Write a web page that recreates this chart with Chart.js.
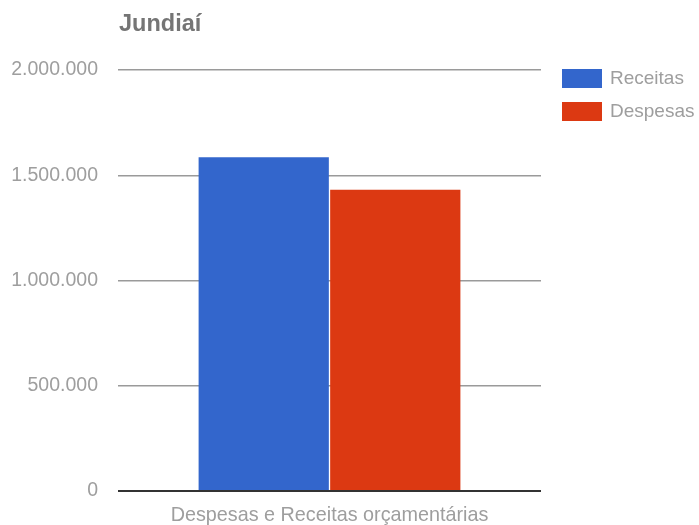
<!DOCTYPE html>
<html>
<head>
<meta charset="utf-8">
<script src="https://cdn.jsdelivr.net/npm/chart.js@4"></script>
<style>
  html, body { margin: 0; padding: 0; background: #fff; }
  #wrap { width: 699px; height: 525px; position: relative; }
</style>
</head>
<body>
<div id="wrap"><canvas id="chart" width="699" height="525"></canvas></div>
<script>
// data
const chartTitle = "Jundiaí";
const categories = ["Despesas e Receitas orçamentárias"];
const seriesNames = ["Receitas", "Despesas"];
const receitas = [1585000];
const despesas = [1431000];
const seriesColors = ["#3366cc", "#dc3912"];
const yTicks = [0, 500000, 1000000, 1500000, 2000000];

const FONT = "'Liberation Sans', Arial, sans-serif";
const TEXT_GRAY = "#9e9e9e";

// thousands with dots (pt-BR)
function fmt(v) {
    return String(v).replace(/\B(?=(\d{3})+(?!\d))/g, ".");
}

// title + legend drawn like the google chart
const decorPlugin = {
    id: "decor",
    afterDraw(chart) {
        const ctx = chart.ctx;
        ctx.save();
        ctx.fillStyle = "#757575";
        ctx.font = "bold 23.5px " + FONT;
        ctx.textBaseline = "middle";
        ctx.textAlign = "left";
        ctx.fillText(chartTitle, 119, 25);

        chart.data.datasets.forEach((ds, i) => {
            const y = 69 + i * 33;
            ctx.fillStyle = ds.backgroundColor;
            ctx.fillRect(562, y, 40, 19);
            ctx.fillStyle = TEXT_GRAY;
            ctx.font = "19px " + FONT;
            ctx.fillText(ds.label, 610, y + 10);
        });
        ctx.restore();
    }
};

new Chart(document.getElementById("chart").getContext("2d"), {
    type: "bar",
    data: {
        labels: categories,
        datasets: [
            { label: seriesNames[0], data: receitas, backgroundColor: seriesColors[0] },
            { label: seriesNames[1], data: despesas, backgroundColor: seriesColors[1] }
        ]
    },
    options: {
        responsive: false,
        animation: false,
        layout: { padding: { left: 0, right: 158, top: 70, bottom: 0 } },
        plugins: { legend: { display: false }, title: { display: false }, tooltip: { enabled: false } },
        datasets: { bar: { categoryPercentage: 0.622, barPercentage: 0.99, borderWidth: 0 } },
        scales: {
            x: {
                grid: { display: false, drawTicks: false },
                border: { display: false },
                ticks: { color: TEXT_GRAY, font: { family: FONT, size: 19.8 }, padding: 13 },
                afterFit(s) { s.height = 34; }
            },
            y: {
                min: 0,
                max: 2000000,
                afterBuildTicks(s) { s.ticks = yTicks.map(v => ({ value: v })); },
                grid: {
                    drawTicks: false,
                    color: c => c.tick && c.tick.value === 0 ? "#333333" : "#9a9a9a",
                    lineWidth: c => c.tick && c.tick.value === 0 ? 2 : 1.5
                },
                border: { display: false },
                ticks: {
                    color: TEXT_GRAY,
                    font: { family: FONT, size: 19.5 },
                    padding: 20,
                    callback: v => fmt(v)
                },
                afterFit(s) { s.width = 118; }
            }
        }
    },
    plugins: [decorPlugin]
});
</script>
</body>
</html>
